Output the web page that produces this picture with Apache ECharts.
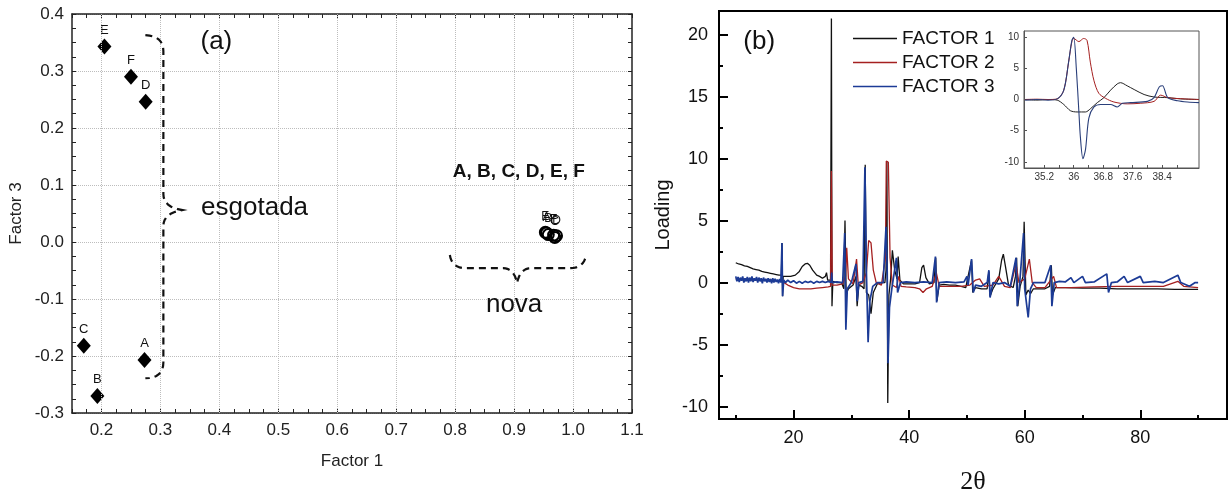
<!DOCTYPE html>
<html>
<head>
<meta charset="utf-8">
<script src="https://cdn.jsdelivr.net/npm/echarts@6/dist/echarts.min.js"></script>
<style>
  html, body { margin: 0; padding: 0; background: #fff; }
  #chart { width: 1228px; height: 490px; }
</style>
</head>
<body>
<div id="chart"></div>
<script>
// ---- panel (a): factor scores ----
const sampleLabels = ['A', 'B', 'C', 'D', 'E', 'F']
const esgF1 = [0.273, 0.193, 0.170, 0.275, 0.205, 0.250]
const esgF3 = [-0.207, -0.270, -0.182, 0.246, 0.343, 0.290]
const novaF1 = [0.955, 0.958, 0.969, 0.972, 0.953, 0.967]
const novaF3 = [0.016, 0.013, 0.008, 0.011, 0.017, 0.012]
const gridX = [0.2, 0.3, 0.4, 0.5, 0.6, 0.7, 0.8, 0.9, 1.0]

// ---- panel (b): loadings vs 2theta ----
const factor1 = [
  [10,1.6],[10.5,1.5],[11,1.45],[11.5,1.35],[12,1.3],[12.5,1.2],[13,1.1],[13.5,1.05],[14,1.0],[14.5,0.9],
  [15,0.85],[15.5,0.8],[16,0.75],[16.5,0.7],[17,0.65],[17.5,0.6],[17.9,0.6],[18.0,3.2],[18.1,-1.1],[18.2,0.5],
  [18.7,0.5],[19.5,0.5],[20.3,0.6],[21,0.9],[21.5,1.3],[22,1.5],[22.4,1.55],[22.8,1.4],[23.3,1.0],[24,0.6],
  [24.5,0.5],[25,0.35],[25.5,0.5],[25.7,0.8],[25.9,0.2],[26.4,0.2],[26.55,21.3],[26.65,-1.9],[26.8,0.1],[27.5,0.0],
  [28.3,0.0],[28.7,-0.5],[28.9,5.0],[29.1,-0.9],[29.5,-0.5],[30.3,-0.2],[30.8,0.5],[31.0,-1.9],[31.3,-0.2],[31.8,-0.3],
  [32.2,-0.5],[32.4,9.5],[32.6,-0.8],[33.0,-1.0],[33.4,-2.5],[33.8,-0.8],[34.5,-0.1],[35.2,0.0],[35.8,0.0],[36.0,1.0],
  [36.15,9.8],[36.3,-9.7],[36.5,-1.0],[36.8,0.3],[37.1,2.6],[37.5,1.0],[37.9,0.3],[38.1,2.1],[38.4,0.2],[39,-0.1],
  [40,-0.1],[41,-0.1],[41.8,0.0],[42.2,1.2],[42.5,1.4],[42.9,0.4],[43.5,-0.1],[44.3,0.0],[44.6,2.0],[44.8,-1.5],
  [45.2,-0.2],[46,-0.15],[47,-0.2],[48,-0.2],[49,-0.3],[49.8,-0.4],[50.1,0.3],[50.8,1.8],[51.0,-0.8],[51.5,-0.4],
  [52.5,-0.5],[53.5,-0.5],[53.8,0.9],[54.0,-1.1],[54.5,-0.5],[55.5,0.3],[56.0,1.8],[56.3,2.3],[56.7,1.2],[57.2,-0.2],
  [58.0,-0.4],[58.4,0.5],[58.6,2.0],[58.8,-1.9],[59.2,-0.3],[59.7,0.5],[59.9,4.9],[60.2,-1.0],[60.6,-0.6],[61,-0.9],
  [61.5,-0.5],[62.5,-0.5],[63.5,-0.5],[64.3,-0.3],[64.6,1.4],[64.8,-1.0],[65.3,-0.4],[67,-0.4],[70,-0.45],[73,-0.45],
  [76,-0.5],[80,-0.5],[83,-0.5],[86,-0.55],[90,-0.55]
]
const factor2 = [
  [10,0.3],[11,0.25],[12,0.3],[13,0.2],[14,0.25],[15,0.2],[16,0.2],[17,0.15],[18,0.1],[19,-0.2],
  [20,-0.4],[21,-0.5],[22,-0.5],[23,-0.5],[24,-0.45],[25,-0.4],[26,-0.35],[26.4,-0.3],[26.55,9.0],[26.7,-0.2],
  [27.5,-0.2],[28.5,-0.1],[29.0,0.5],[29.2,2.8],[29.5,0.3],[30.3,-0.1],[30.9,1.9],[31.2,-0.2],[32.0,0.0],[32.6,0.8],
  [33.0,3.4],[33.4,3.2],[33.8,1.0],[34.3,0.0],[35.2,-0.2],[35.9,2.0],[36.05,9.8],[36.4,9.7],[36.7,2.0],[37.1,-0.2],
  [37.8,-0.4],[38.2,0.5],[38.6,-0.3],[39.5,-0.35],[41,-0.4],[41.8,-0.5],[42.4,-0.8],[43.0,-0.5],[44.0,-0.3],[44.7,0.8],
  [45.2,-0.3],[47,-0.3],[49,-0.3],[50.5,-0.2],[51.5,0.2],[52.2,0.3],[53,-0.3],[54.5,-0.2],[55.5,0.5],[56.5,-0.3],
  [57.5,-0.4],[58.5,1.5],[59.0,0.0],[60.0,0.3],[60.8,1.9],[61.3,0.0],[62,-0.4],[63.5,-0.4],[65,0.5],[65.5,-0.4],
  [68,-0.4],[72,-0.35],[76,-0.3],[80,-0.3],[84,-0.3],[86.5,0.1],[87.5,-0.3],[90,-0.4]
]
const factor3 = [
  [10,0.5],[10.2,0.1],[10.4,0.45],[10.6,0.05],[10.8,0.4],[11,0.15],[11.2,0.5],[11.4,0.0],[11.6,0.35],[11.8,0.1],
  [12,0.45],[12.2,0.0],[12.4,0.4],[12.6,0.1],[12.8,0.5],[13,0.05],[13.2,0.35],[13.4,0.15],[13.6,0.45],[13.8,0.0],
  [14,0.4],[14.2,0.1],[14.4,0.35],[14.6,-0.05],[14.8,0.4],[15,0.1],[15.2,0.3],[15.4,0.0],[15.6,0.35],[15.8,0.05],
  [16,0.3],[16.2,-0.05],[16.4,0.35],[16.6,0.0],[16.8,0.3],[17,0.05],[17.2,0.25],[17.4,-0.05],[17.6,0.3],[17.8,0.0],
  [18.0,3.2],[18.1,-1.1],[18.3,0.2],[18.6,0.0],[19,0.2],[19.5,0.0],[20,0.15],[20.5,-0.05],[21,0.1],[21.5,-0.05],
  [22,0.1],[22.5,0.0],[23,0.1],[23.5,-0.05],[24,0.1],[24.5,0.0],[25,0.1],[25.5,0.0],[26,0.1],[26.5,0.0],
  [26.6,0.8],[26.7,0.0],[27.5,0.05],[28.5,0.0],[28.85,4.0],[29.05,-3.8],[29.3,-0.5],[30,0.0],[30.8,1.5],[31.0,-1.5],
  [31.3,0.0],[32.0,0.1],[32.35,9.3],[32.6,1.0],[32.9,-4.8],[33.2,-1.5],[33.7,-0.3],[34.5,0.0],[35.5,0.0],[36.0,4.5],
  [36.2,1.0],[36.35,-6.5],[36.6,-2.0],[37.0,-0.5],[37.8,2.0],[38.0,-0.8],[38.5,0.0],[39.5,0.05],[41,0.0],[42.5,0.05],
  [44,0.0],[44.55,2.1],[44.75,-1.6],[45.2,0.0],[46.5,0.05],[48,0.0],[49.5,0.05],[50.0,0.5],[50.2,-0.2],[50.8,1.9],
  [51.1,-0.8],[51.5,-0.2],[52.5,-0.3],[53.5,0.0],[53.8,1.0],[54.0,-1.2],[54.5,0.0],[55.5,-0.1],[56.5,0.0],[57.5,-0.3],
  [58.5,2.0],[58.7,-1.9],[59.1,-0.2],[59.8,4.0],[60.0,-0.5],[60.6,-2.8],[61,-0.5],[61.5,0.0],[62.5,0.0],[63.5,0.0],
  [64.5,1.4],[64.7,-1.9],[65.1,0.0],[66,0.1],[67,0.05],[68,0.4],[68.5,0.0],[70,0.5],[70.5,0.0],[72,0.05],
  [74.2,0.7],[74.5,-0.8],[75,0.0],[76,0.05],[77.2,0.5],[77.8,0.0],[80,0.5],[80.5,0.0],[82.5,0.1],[84,0.0],
  [86.5,0.6],[87,0.0],[88.5,-0.3],[89.5,0.0],[90,0.0]
]
const xMajorB = [20, 40, 60, 80]
const xMinorB = [10, 30, 50, 70, 90]
const yMajorB = [-10, -5, 0, 5, 10, 15, 20]
const yMinorB = [-7.5, -2.5, 2.5, 7.5, 12.5, 17.5]

// ---- inset: zoom around 36 deg ----
const inset1 = [
  [34.68,0.0],[35.0,-0.1],[35.3,0.0],[35.55,-0.1],[35.73,-0.8],[35.91,-1.8],[36.09,-2.0],[36.32,-2.0],[36.45,-1.5],[36.64,-0.5],
  [36.82,0.3],[37.0,1.5],[37.18,2.5],[37.27,2.7],[37.45,2.2],[37.64,1.6],[37.91,0.8],[38.18,0.4],[38.55,0.3],[38.9,0.1],[39.4,0.0]
]
const inset2 = [
  [34.68,0.0],[35.0,0.05],[35.3,0.0],[35.55,0.1],[35.73,1.5],[35.86,6.0],[35.95,9.3],[36.0,9.8],[36.14,9.3],[36.27,9.8],
  [36.36,9.5],[36.45,6.0],[36.55,3.0],[36.68,1.0],[36.86,0.2],[37.09,-0.4],[37.45,-0.7],[37.82,-0.6],[38.18,-0.3],[38.36,0.7],
  [38.55,0.3],[39.0,0.1],[39.4,0.0]
]
const inset3 = [
  [34.68,-0.1],[35.0,0.0],[35.3,-0.1],[35.55,0.1],[35.73,1.5],[35.86,6.0],[35.95,9.5],[36.0,10.0],[36.07,5.0],[36.14,-2.0],
  [36.18,-6.0],[36.25,-9.5],[36.32,-8.0],[36.41,-3.0],[36.55,-1.2],[36.73,-0.8],[37.0,-0.8],[37.18,-1.2],[37.32,-0.6],[37.55,-0.5],
  [38.0,-0.3],[38.18,0.3],[38.32,2.0],[38.41,2.2],[38.55,0.3],[38.82,-0.2],[39.09,-0.4],[39.4,-0.5]
]
const insetXLabels = [35.2, 36, 36.8, 37.6, 38.4]
const insetXMinor = [35.6, 36.4, 37.2, 38.0, 38.8]
const insetYLabels = [-10, -5, 0, 5, 10]

const FONT = '"Liberation Sans", Arial, sans-serif'
const C1 = '#111111', C2 = '#a52020', C3 = '#1c3b96'

const tenths = v => {
  const t = v * 10
  return Math.abs(t - Math.round(t)) < 1e-6 ? v.toFixed(1) : ''
}

const aAxisStyle = {
  axisLine: { onZero: false, lineStyle: { color: '#222', width: 1.5 } },
  axisTick: { inside: true, length: 4, lineStyle: { color: '#222' } },
  minorTick: { show: true, length: 4, lineStyle: { color: '#222' } },
}

const chart = echarts.init(document.getElementById('chart'), null, { renderer: 'canvas' })

const option = {
  animation: false,
  textStyle: { fontFamily: FONT },
  grid: [
    { left: 72, top: 14, right: 596, bottom: 77, outerBoundsMode: 'none' },
    { left: 719, top: 11, right: 1, bottom: 71, outerBoundsMode: 'none', show: true, borderColor: '#000', borderWidth: 2 },
    { left: 1024, top: 31, right: 29, bottom: 322, outerBoundsMode: 'none', show: true, borderColor: '#555', borderWidth: 1, backgroundColor: '#fff' },
  ],
  legend: {
    data: ['FACTOR 1', 'FACTOR 2', 'FACTOR 3'],
    orient: 'vertical', left: 853, top: 29, padding: 0,
    icon: 'rect', itemWidth: 44, itemHeight: 1.5, itemGap: 5,
    textStyle: { fontSize: 19, color: '#111', fontFamily: FONT },
  },
  xAxis: [
    {
      gridIndex: 0, type: 'value', min: 0.15, max: 1.1, interval: 0.05, position: 'bottom',
      ...aAxisStyle, minorTick: { ...aAxisStyle.minorTick, splitNumber: 2 },
      axisLabel: { formatter: tenths, fontSize: 17, color: '#222', margin: 9 },
      splitLine: { show: false },
      name: 'Factor 1', nameLocation: 'middle', nameGap: 40,
      nameTextStyle: { fontSize: 17, color: '#222' },
    },
    {
      gridIndex: 0, type: 'value', min: 0.15, max: 1.1, interval: 0.05, position: 'top',
      ...aAxisStyle, minorTick: { ...aAxisStyle.minorTick, splitNumber: 2 },
      axisLabel: { show: false }, splitLine: { show: false },
    },
    {
      gridIndex: 1, type: 'value', min: 7.1, max: 95, position: 'bottom',
      axisLine: { onZero: false, lineStyle: { color: '#000', width: 2 } },
      axisTick: { inside: true, length: 9, customValues: xMajorB, lineStyle: { color: '#000', width: 2 } },
      axisLabel: { customValues: xMajorB, fontSize: 18, color: '#111', margin: 10 },
      splitLine: { show: false },
      name: '2θ', nameLocation: 'middle', nameGap: 50,
      nameTextStyle: { fontSize: 26, color: '#111', fontFamily: '"Liberation Serif", "DejaVu Serif", serif' },
    },
    {
      gridIndex: 1, type: 'value', min: 7.1, max: 95, position: 'bottom',
      axisLine: { show: false, onZero: false },
      axisTick: { inside: true, length: 4, customValues: xMinorB, lineStyle: { color: '#000', width: 2 } },
      axisLabel: { show: false }, splitLine: { show: false },
    },
    {
      gridIndex: 2, type: 'value', min: 34.65, max: 39.4, position: 'bottom',
      axisLine: { onZero: false, lineStyle: { color: '#555', width: 1 } },
      axisTick: { inside: true, length: 3, customValues: insetXLabels.concat(insetXMinor), lineStyle: { color: '#555' } },
      axisLabel: { customValues: insetXLabels, fontSize: 10, color: '#333', margin: 4 },
      splitLine: { show: false },
    },
  ],
  yAxis: [
    {
      gridIndex: 0, type: 'value', min: -0.3, max: 0.4, interval: 0.1, position: 'left',
      ...aAxisStyle, minorTick: { ...aAxisStyle.minorTick, splitNumber: 4 },
      axisLabel: { formatter: v => v.toFixed(1), fontSize: 17, color: '#222', margin: 8 },
      splitLine: { show: true, lineStyle: { type: 'dotted', color: '#bdbdbd', width: 1 } },
      name: 'Factor 3', nameLocation: 'middle', nameGap: 47,
      nameTextStyle: { fontSize: 17, color: '#222' },
    },
    {
      gridIndex: 0, type: 'value', min: -0.3, max: 0.4, interval: 0.1, position: 'right',
      ...aAxisStyle, minorTick: { ...aAxisStyle.minorTick, splitNumber: 4 },
      axisLabel: { show: false }, splitLine: { show: false },
    },
    {
      gridIndex: 1, type: 'value', min: -11, max: 21.9, position: 'left',
      axisLine: { onZero: false, lineStyle: { color: '#000', width: 2 } },
      axisTick: { inside: true, length: 9, customValues: yMajorB, lineStyle: { color: '#000', width: 2 } },
      axisLabel: { customValues: yMajorB, fontSize: 18, color: '#111', margin: 11 },
      splitLine: { show: false },
      name: 'Loading', nameLocation: 'middle', nameGap: 46,
      nameTextStyle: { fontSize: 20, color: '#111' },
    },
    {
      gridIndex: 1, type: 'value', min: -11, max: 21.9, position: 'left',
      axisLine: { show: false, onZero: false },
      axisTick: { inside: true, length: 4, customValues: yMinorB, lineStyle: { color: '#000', width: 2 } },
      axisLabel: { show: false }, splitLine: { show: false },
    },
    {
      gridIndex: 2, type: 'value', min: -11, max: 11, position: 'left',
      axisLine: { onZero: false, lineStyle: { color: '#555', width: 1 } },
      axisTick: { inside: true, length: 3, customValues: insetYLabels, lineStyle: { color: '#555' } },
      axisLabel: { customValues: insetYLabels, fontSize: 10, color: '#333', margin: 5 },
      splitLine: { show: false },
    },
  ],
  series: [
    {
      name: 'esgotada', type: 'scatter', xAxisIndex: 0, yAxisIndex: 0,
      symbol: 'diamond', symbolSize: [14, 16],
      itemStyle: { color: '#000', opacity: 1 },
      label: { show: true, position: 'top', distance: 2, formatter: '{b}', fontSize: 13, color: '#111' },
      data: sampleLabels.map((n, i) => ({ name: n, value: [esgF1[i], esgF3[i]] })),
      markLine: {
        silent: true, symbol: ['none', 'none'], label: { show: false },
        lineStyle: { type: 'dotted', color: '#bdbdbd', width: 1 },
        data: gridX.map(v => ({ xAxis: v })),
      },
      z: 3,
    },
    {
      name: 'nova', type: 'scatter', xAxisIndex: 0, yAxisIndex: 0,
      symbol: 'circle', symbolSize: 11,
      itemStyle: { color: 'rgba(255,255,255,0)', borderColor: '#000', borderWidth: 2, opacity: 1 },
      label: { show: true, position: 'top', distance: 3, formatter: '{b}', fontSize: 12, color: '#111' },
      data: sampleLabels.map((n, i) => ({ name: n, value: [novaF1[i], novaF3[i]] })),
      z: 3,
    },
    { name: 'FACTOR 1', type: 'line', xAxisIndex: 2, yAxisIndex: 2, data: factor1, symbol: 'none', lineStyle: { color: C1, width: 1.3 }, itemStyle: { color: C1 } },
    { name: 'FACTOR 2', type: 'line', xAxisIndex: 2, yAxisIndex: 2, data: factor2, symbol: 'none', lineStyle: { color: C2, width: 1.3 }, itemStyle: { color: C2 } },
    { name: 'FACTOR 3', type: 'line', xAxisIndex: 2, yAxisIndex: 2, data: factor3, symbol: 'none', lineStyle: { color: C3, width: 1.7 }, itemStyle: { color: C3 } },
    { name: 'inset 1', type: 'line', xAxisIndex: 4, yAxisIndex: 4, data: inset1, symbol: 'none', smooth: 0.3, lineStyle: { color: '#222', width: 1 } },
    { name: 'inset 2', type: 'line', xAxisIndex: 4, yAxisIndex: 4, data: inset2, symbol: 'none', smooth: 0.3, lineStyle: { color: C2, width: 1 } },
    { name: 'inset 3', type: 'line', xAxisIndex: 4, yAxisIndex: 4, data: inset3, symbol: 'none', smooth: 0.3, lineStyle: { color: '#2a3f7a', width: 1.1 } },
  ],
}

chart.setOption(option)

// annotations placed in data space so they follow the axes
const pa = (x, y) => chart.convertToPixel({ seriesIndex: 0 }, [x, y])
const pb = (x, y) => chart.convertToPixel({ seriesIndex: 2 }, [x, y])

// brace outline: straight runs joined by quadratic curls, flattened to a polyline
function quad(pts, p0, c, p1) {
  for (let k = 1; k <= 8; k++) {
    const t = k / 8, u = 1 - t
    pts.push([u * u * p0[0] + 2 * u * t * c[0] + t * t * p1[0], u * u * p0[1] + 2 * u * t * c[1] + t * t * p1[1]])
  }
}

const [vx, vTop] = pa(0.305, 0.363)
const vBot = pa(0.305, -0.239)[1]
const [vtx, vty] = pa(0.337, 0.056)
const braceA = [[vx - 18, vTop]]
quad(braceA, [vx - 18, vTop], [vx, vTop + 1], [vx, vTop + 16])
braceA.push([vx, vty - 16])
quad(braceA, [vx, vty - 16], [vx, vty - 3], [vtx, vty])
quad(braceA, [vtx, vty], [vx, vty + 3], [vx, vty + 16])
braceA.push([vx, vBot - 16])
quad(braceA, [vx, vBot - 16], [vx, vBot], [vx - 18, vBot])

const [hL, hEnd] = pa(0.791, -0.023)
const hR = pa(1.022, -0.023)[0]
const hy = pa(0.9, -0.046)[1]
const [htx, hty] = pa(0.905, -0.072)
const braceB = [[hL, hEnd]]
quad(braceB, [hL, hEnd], [hL + 2, hy], [hL + 16, hy])
braceB.push([htx - 14, hy])
quad(braceB, [htx - 14, hy], [htx - 3, hy], [htx, hty])
quad(braceB, [htx, hty], [htx + 3, hy], [htx + 14, hy])
braceB.push([hR - 16, hy])
quad(braceB, [hR - 16, hy], [hR - 2, hy], [hR, hEnd])

const dash = { stroke: '#111', fill: null, lineWidth: 2.2, lineDash: [7, 5] }

const txt = (pos, text, size, align, extra) => ({
  type: 'text', x: pos[0], y: pos[1], z: 10,
  style: Object.assign({ text, fontSize: size, fontFamily: FONT, fill: '#111', align, verticalAlign: 'middle' }, extra || {}),
})

chart.setOption({
  graphic: [
    { type: 'polyline', shape: { points: braceA }, style: dash, z: 10 },
    { type: 'polyline', shape: { points: braceB }, style: dash, z: 10 },
    txt(pa(0.368, 0.351), '(a)', 26, 'left'),
    txt(pa(0.369, 0.06), 'esgotada', 26, 'left'),
    txt(pa(0.9, -0.111), 'nova', 26, 'center'),
    txt(pa(0.908, 0.123), 'A, B, C, D, E, F', 19, 'center', { fontWeight: 'bold' }),
    txt(pb(11.3, 19.4), '(b)', 26, 'left'),
  ],
})

window.addEventListener('resize', () => chart.resize())
</script>
</body>
</html>
